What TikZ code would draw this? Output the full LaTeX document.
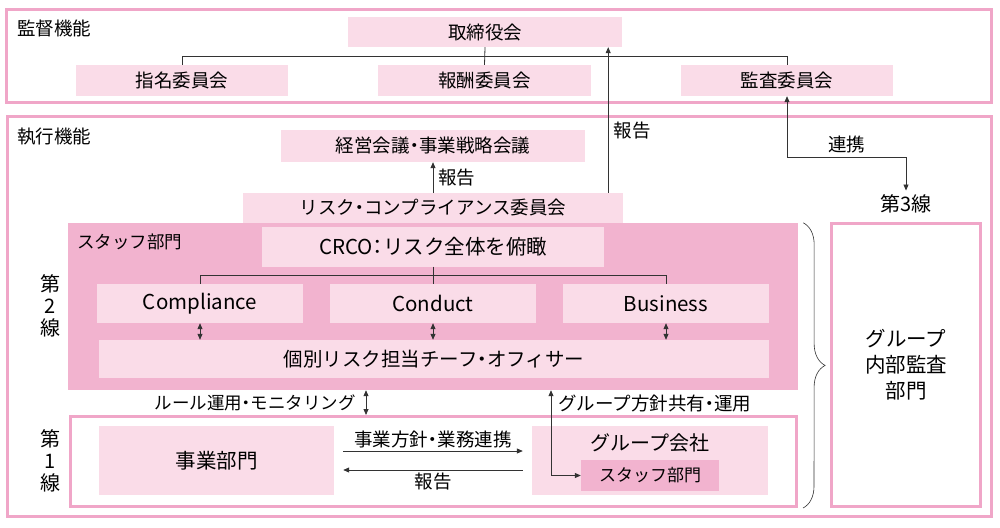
\documentclass[tikz,border=0pt]{standalone}
\usepackage{fontspec}
\setmainfont{Noto Sans CJK JP}
\usetikzlibrary{arrows.meta, positioning, decorations.pathreplacing}
\definecolor{pinkline}{HTML}{F0A6C8}
\definecolor{pinklight}{HTML}{FADCE8}
\definecolor{pinkmid}{HTML}{F2B3CF}
\definecolor{inkgray}{HTML}{333333}
% narrow middle dot and colon
\newcommand{\nkg}{{\addfontfeatures{RawFeature=+halt}・}}
\newcommand{\nclr}{{\addfontfeatures{RawFeature=+halt}：}}

\begin{document}
\begin{tikzpicture}[x=1pt, y=-1pt,
    box/.style={fill=pinklight, inner sep=0pt, font=\fontsize{18.5}{21}\selectfont},
    frame/.style={draw=pinkline, line width=3pt, inner sep=0pt},
    lbl/.style={inner sep=1pt, font=\fontsize{18.5}{21}\selectfont},
    link/.style={draw=inkgray, line width=0.8pt},
    arr/.style={link, -{Triangle[length=6pt,width=5pt]}},
    biarr/.style={link, {Triangle[length=6pt,width=5pt]}-{Triangle[length=6pt,width=5pt]}}]

    \useasboundingbox (0,0) rectangle (1000,527);

    % outer frames
    \node[frame, minimum width=984.5, minimum height=92] (kantoku) at (499,56) {};
    \node[frame, minimum width=984, minimum height=400] (shikko) at (499,316.5) {};
    \node[lbl, anchor=west] (kantokulbl) at (16,28) {監督機能};
    \node[lbl, anchor=west] (shikkolbl) at (16,137) {執行機能};

    % supervision
    \node[box, minimum width=274, minimum height=30] (torishimari) at (485,32) {取締役会};
    \node[box, minimum width=212, minimum height=31] (shimei) at (182,80.5) {指名委員会};
    \node[box, minimum width=213, minimum height=31] (houshu) at (484.5,80.5) {報酬委員会};
    \node[box, minimum width=212, minimum height=31] (kansa) at (787,80.5) {監査委員会};

    \draw[link] (torishimari.south) -- (houshu.north);
    \draw[link] (shimei.north) -- ++(0,-8) -| (kansa.north);

    % execution
    \node[box, minimum width=304, minimum height=32] (keiei) at (433,146) {経営会議\nkg 事業戦略会議};
    \node[box, minimum width=380, minimum height=30] (risk) at (433,208) {リスク\nkg コンプライアンス委員会};

    \draw[arr] (risk.north) -- node[lbl, right=4pt] {報告} (keiei.south);
    \draw[arr] ([xshift=-15pt]risk.north east) -- node[lbl, right=4pt, pos=0.43] {報告} ([xshift=-15pt]risk.north east |- torishimari.south);

    % second line
    \node[fill=pinkmid, inner sep=0pt, minimum width=730, minimum height=167] (staff) at (433,306.5) {};
    \node[lbl, anchor=west, font=\fontsize{17.5}{20}\selectfont] (stafflbl) at (76,242) {スタッフ部門};
    \node[box, minimum width=342, minimum height=40, font=\fontsize{20.5}{22}\selectfont] (crco) at (433,246.5) {CRCO\nclr リスク全体を俯瞰};
    \node[box, minimum width=206, minimum height=39, font=\fontsize{20.5}{22}\selectfont] (compliance) at (200,303.5) {Compliance};
    \node[box, minimum width=206, minimum height=39, font=\fontsize{20.5}{22}\selectfont] (conduct) at (433,303.5) {Conduct};
    \node[box, minimum width=206, minimum height=39, font=\fontsize{20.5}{22}\selectfont] (business) at (666,303.5) {Business};
    \node[box, minimum width=670, minimum height=38, font=\fontsize{19.5}{22}\selectfont] (kobetsu) at (434,359) {個別リスク担当チーフ\nkg オフィサー};

    \draw[link] (crco.south) -- (conduct.north);
    \draw[link] (compliance.north) -- ++(0,-8) -| (business.north);
    \draw[biarr] (compliance.south) -- (compliance.south |- kobetsu.north);
    \draw[biarr] (conduct.south) -- (conduct.south |- kobetsu.north);
    \draw[biarr] (business.south) -- (business.south |- kobetsu.north);

    % first line
    \node[frame, fill=white, minimum width=726.5, minimum height=90] (line1) at (433.25,461.5) {};
    \node[box, minimum width=235, minimum height=69, font=\fontsize{20.5}{22}\selectfont] (jigyo) at (216.5,460.5) {事業部門};
    \node[box, minimum width=236, minimum height=69] (gkaisha) at (650,460.5) {};
    \node[lbl, font=\fontsize{20}{22}\selectfont] (gkaishalbl) at (650,443) {グループ会社};
    \node[fill=pinkmid, inner sep=0pt, minimum width=138, minimum height=31, font=\fontsize{17}{20}\selectfont] (gstaff) at (650,475.5) {スタッフ部門};

    \draw[arr] ([shift={(9pt,9.5pt)}]jigyo.east) -- node[lbl, above=2pt] {事業方針\nkg 業務連携} ([shift={(-9pt,9.5pt)}]gkaisha.west);
    \draw[arr] ([shift={(-9pt,-9.5pt)}]gkaisha.west) -- node[lbl, below=2pt] {報告} ([shift={(9pt,-9.5pt)}]jigyo.east);

    \draw[biarr] ([xshift=-67pt]staff.south) -- ([xshift=-67pt]staff.south |- line1.north);
    \node[lbl, anchor=east, font=\fontsize{17.5}{20}\selectfont] (rule) at (357,403) {ルール運用\nkg モニタリング};
    \draw[biarr] ([xshift=118pt]staff.south) |- (gstaff.west);
    \node[lbl, anchor=west] (hoshin) at (557,403) {グループ方針共有\nkg 運用};

    % line labels
    \node[align=center, inner sep=0pt, font=\fontsize{20}{22}\selectfont] (dai2) at (50,306) {第\\2\\線};
    \node[align=center, inner sep=0pt, font=\fontsize{20}{22}\selectfont] (dai1) at (50,461) {第\\1\\線};

    % third line
    \node[lbl, font=\fontsize{20}{22}\selectfont, inner sep=0pt] (dai3) at (906,204) {第3線};
    \node[frame, minimum width=148.5, minimum height=283.5, align=center, font=\fontsize{20.5}{26}\selectfont] (audit) at (906,365) {グループ\\内部監査\\部門};

    \draw[biarr] (kansa.south) -- ++(0,61) -| node[lbl, above=3pt, pos=0.25] {連携} ([yshift=4pt]dai3.north);
    \draw[link, line width=0.6pt, decorate, decoration={brace, amplitude=22pt}] ([xshift=5pt]staff.north east) -- ([xshift=5pt]line1.south east);
\end{tikzpicture}
\end{document}
